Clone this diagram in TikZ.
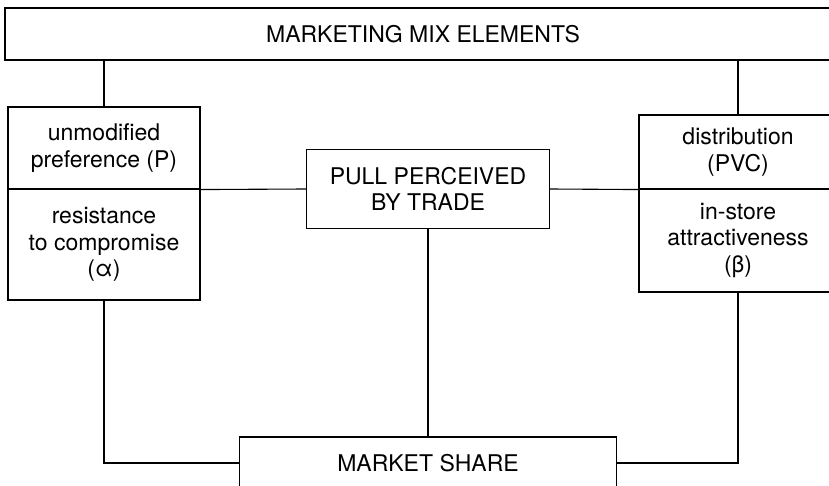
\documentclass[tikz,border=0pt]{standalone}
\usepackage{fontspec}
\setmainfont{TeX Gyre Heros}
\begin{document}
\begin{tikzpicture}[x=1pt,y=-1pt]
  \tikzstyle{B}=[draw,rectangle,inner sep=0pt,align=center,line width=1.1pt,font=\fontsize{23}{26.5}\selectfont]
  \clip (0,0) rectangle (829,486);
  \node[B,minimum width=836pt,minimum height=52pt] (MIX) at (423,34) {MARKETING MIX ELEMENTS};
  \node[B,minimum width=192pt,minimum height=82pt] (PREF) at (104,148) {unmodified\\preference (P)};
  \node[B,minimum width=192pt,minimum height=111pt] (RES) at (104,244.5) {resistance\\to compromise\\(α)};
  \node[B,minimum width=243pt,minimum height=79pt] (PULL) at (428,189) {PULL PERCEIVED\\BY TRADE};
  \node[B,minimum width=198pt,minimum height=74pt] (DIST) at (738,152) {distribution\\(PVC)};
  \node[B,minimum width=198pt,minimum height=103pt] (STORE) at (738,240.5) {in-store\\attractiveness\\(β)};
  \node[B,minimum width=377pt,minimum height=52pt] (SHARE) at (428,463) {MARKET SHARE};

  \draw[line width=1.1pt] (MIX.south -| PREF.north) -- (PREF.north);
  \draw[line width=1.1pt] (MIX.south -| DIST.north) -- (DIST.north);
  \draw[line width=1.1pt] (PREF.south east) -- (PULL.west);
  \draw[line width=1.1pt] (PULL.east) -- (DIST.south west);
  \draw[line width=1.1pt] (PULL.south) -- (SHARE.north);
  \draw[line width=1.1pt] (RES.south) |- (SHARE.west);
  \draw[line width=1.1pt] (STORE.south) |- (SHARE.east);
\end{tikzpicture}
\end{document}
